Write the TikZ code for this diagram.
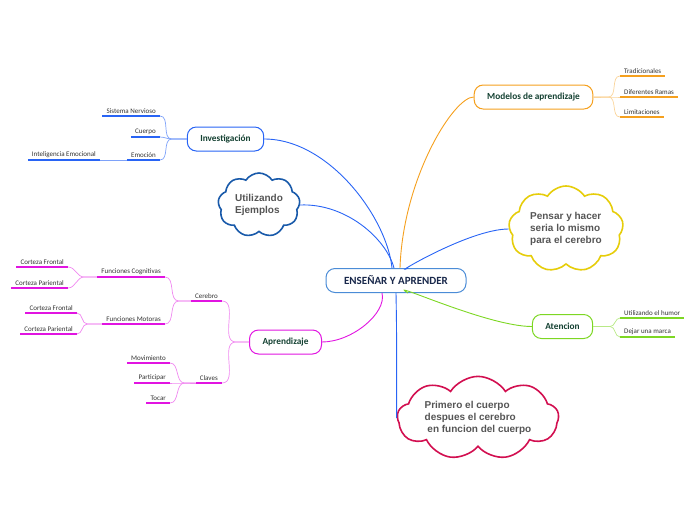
\documentclass[tikz,border=0pt]{standalone}
\usepackage{fontspec}
\setmainfont{Carlito}
\newfontfamily\cloudfont{Liberation Sans}
\usetikzlibrary{shapes.symbols}
\definecolor{linkblue}{RGB}{40,100,245}
\definecolor{rootblue}{RGB}{75,140,215}
\definecolor{cloudblue}{RGB}{25,90,170}
\definecolor{magentaline}{RGB}{225,20,225}
\definecolor{orangeline}{RGB}{245,160,30}
\definecolor{greenline}{RGB}{125,215,35}
\definecolor{yellowline}{RGB}{230,205,10}
\definecolor{crimsonline}{RGB}{210,15,80}
\definecolor{topictext}{RGB}{20,65,50}
\definecolor{roottext}{RGB}{25,40,75}
\definecolor{leaftext}{RGB}{50,50,50}
\definecolor{cloudtext}{RGB}{85,85,85}
\tikzset{%
  topic/.style  = {shape=rectangle, rounded corners=9pt, draw, line width=1pt,%
                   fill=white, inner xsep=13pt, minimum height=24pt,%
                   text=topictext, font=\bfseries\fontsize{9.3}{11}\selectfont},%
  root/.style   = {topic, draw=rootblue, text=roottext, minimum width=140pt,%
                   font=\bfseries\fontsize{11}{13}\selectfont},%
  leaf/.style   = {inner xsep=4pt, inner ysep=2.5pt, text=leaftext,%
                   font=\fontsize{7}{8}\selectfont},%
  bubble/.style = {cloud, cloud puffs=9, cloud puff arc=115, cloud ignores aspect,%
                   draw, line width=1.6pt, fill=white, align=left, text=cloudtext,%
                   font=\cloudfont\bfseries\fontsize{10}{12}\selectfont},%
  uline/.style  = {line width=1.5pt},%
  twig/.style   = {line width=0.7pt},%
  link/.style   = {line width=0.9pt}%
}
\begin{document}
\begin{tikzpicture}[x=1pt,y=-1pt]
	\useasboundingbox (0,0) rectangle (696,520);
	\node [root] (root) at (396,280.5) {ENSEÑAR Y APRENDER};
	\node [topic,draw=linkblue] (inv) at (225.5,139) {Investigación};
	\node [topic,draw=magentaline] (apr) at (285.5,342) {Aprendizaje};
	\node [topic,draw=orangeline] (mod) at (533.5,97) {Modelos de aprendizaje};
	\node [topic,draw=greenline] (ate) at (562.5,326.5) {Atencion};
	\node [bubble,draw=cloudblue,minimum width=82pt,minimum height=64pt] (eje) at (259,205)
		{Utilizando\\Ejemplos};
	\node [bubble,draw=yellowline,minimum width=114pt,minimum height=86pt] (pen) at (566,229)
		{Pensar y hacer\\seria lo mismo\\para el cerebro};
	\node [bubble,draw=crimsonline,minimum width=160pt,minimum height=80pt] (pri) at (478,418)
		{Primero el cuerpo\\despues el cerebro\\\hspace*{2.8pt}en funcion del cuerpo};

	\draw [link,linkblue] (inv.east) .. controls +(65,0) and +(-5,-50) .. ([xshift=-4pt]root.north);
	\draw [link,linkblue] (eje.east) .. controls +(45,-2) and +(-8,-30) .. ([xshift=-2pt]root.north);
	\draw [link,orangeline] (mod.west) .. controls +(-20,0) and +(3,-90) .. ([xshift=4pt]root.north);
	\draw [link,linkblue] (pen.west) .. controls +(-40,0) and +(-20,10) .. ([xshift=12pt]root.north);
	\draw [link,greenline] (ate.west) .. controls +(-45,0) and +(-25,-15) .. ([xshift=12pt]root.south);
	\draw [link,linkblue] (root.south) .. controls +(1,50) and +(0,-40) .. (pri.west);
	\draw [link,magentaline] (apr.east) .. controls +(30,0) and +(5,20) .. ([xshift=-14pt]root.south);

	\node [leaf,anchor=south east] (sn) at (160,116) {Sistema Nervioso};
	\node [leaf,anchor=south east] (cu) at (160,137) {Cuerpo};
	\node [leaf,anchor=south east] (emo) at (160,160) {Emoción};
	\node [leaf,anchor=south east] (ie) at (100,160) {Inteligencia Emocional};
	\foreach \n in {sn,cu,emo}
		\draw [twig,linkblue!60] (\n.south east) to[out=0,in=180] ([xshift=-15pt]inv.west) -- (inv.west);
	\draw [twig,linkblue!60] (ie.south east) -- (emo.south west);
	\foreach \n in {sn,cu,emo,ie}
		\draw [uline,linkblue] (\n.south west) -- (\n.south east);

	\node [leaf,anchor=south east] (cer) at (222,301) {Cerebro};
	\node [leaf,anchor=south east] (cla) at (222,383) {Claves};
	\node [leaf,anchor=south east] (fcog) at (165,277) {Funciones Cognitivas};
	\node [leaf,anchor=south east] (fmot) at (165,324) {Funciones Motoras};
	\node [leaf,anchor=south east] (cfa) at (68,267) {Corteza Frontal};
	\node [leaf,anchor=south east] (cpa) at (68,288) {Corteza Pariental};
	\node [leaf,anchor=south east] (cfb) at (77,313) {Corteza Frontal};
	\node [leaf,anchor=south east] (cpb) at (77,334) {Corteza Pariental};
	\node [leaf,anchor=south east] (mov) at (170,363) {Movimiento};
	\node [leaf,anchor=south east] (par) at (170,383) {Participar};
	\node [leaf,anchor=south east] (toc) at (170,403) {Tocar};
	\foreach \n in {cer,cla}
		\draw [twig,magentaline!50] (\n.south east) to[out=0,in=180] ([xshift=-13pt]apr.west) -- (apr.west);
	\foreach \n in {fcog,fmot}
		\draw [twig,magentaline!50] (\n.south east) to[out=0,in=180] ([xshift=-12pt]cer.south west) -- (cer.south west);
	\foreach \n in {cfa,cpa}
		\draw [twig,magentaline!50] (\n.south east) to[out=0,in=180] ([xshift=-13pt]fcog.south west) -- (fcog.south west);
	\foreach \n in {cfb,cpb}
		\draw [twig,magentaline!50] (\n.south east) to[out=0,in=180] ([xshift=-15pt]fmot.south west) -- (fmot.south west);
	\foreach \n in {mov,par,toc}
		\draw [twig,magentaline!50] (\n.south east) to[out=0,in=180] ([xshift=-11pt]cla.south west) -- (cla.south west);
	\foreach \n in {cer,cla,fcog,fmot,cfa,cpa,cfb,cpb,mov,par,toc}
		\draw [uline,magentaline] (\n.south west) -- (\n.south east);

	\node [leaf,anchor=south west] (tra) at (620,76) {Tradicionales};
	\node [leaf,anchor=south west] (ram) at (620,97) {Diferentes Ramas};
	\node [leaf,anchor=south west] (lim) at (620,117) {Limitaciones};
	\foreach \n in {tra,ram,lim}
		\draw [twig,orangeline!45] (mod.east) -- ([xshift=15pt]mod.east) to[out=0,in=180] (\n.south west);
	\foreach \n in {tra,ram,lim}
		\draw [uline,orangeline] (\n.south west) -- (\n.south east);

	\node [leaf,anchor=south west] (hum) at (620,318) {Utilizando el humor};
	\node [leaf,anchor=south west] (mar) at (620,337) {Dejar una marca};
	\foreach \n in {hum,mar}
		\draw [twig,greenline!55] (ate.east) -- ([xshift=17pt]ate.east) to[out=0,in=180] (\n.south west);
	\foreach \n in {hum,mar}
		\draw [uline,greenline] (\n.south west) -- (\n.south east);
\end{tikzpicture}
\end{document}
